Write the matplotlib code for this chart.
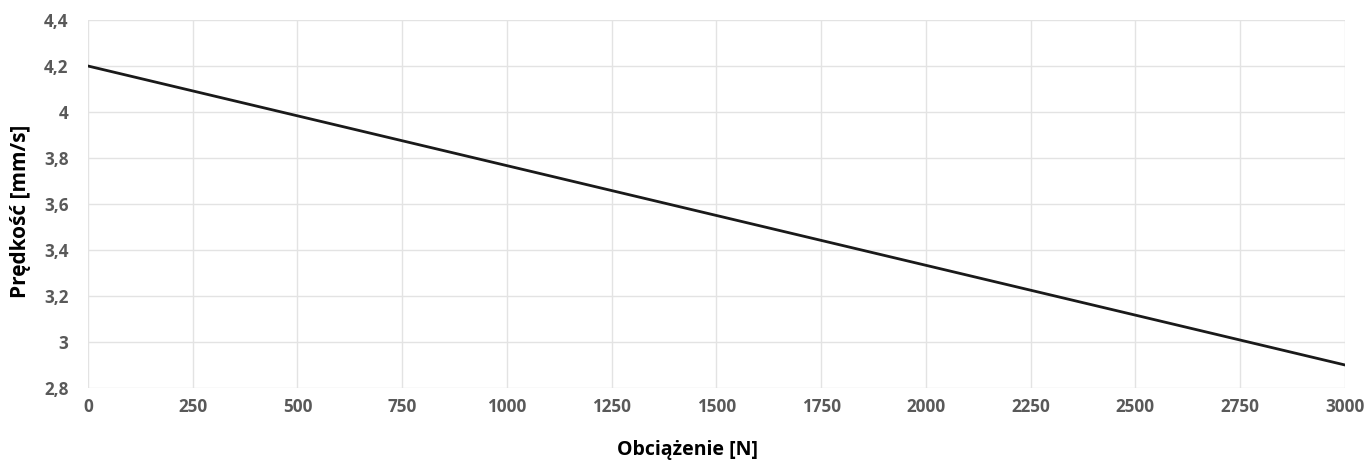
import numpy as np
import matplotlib.pyplot as plt
from matplotlib.ticker import FuncFormatter, MultipleLocator

plt.rcParams['font.family'] = ['Open Sans', 'DejaVu Sans']

# dane
obciazenie = [0, 3000]
predkosc = [4.2, 2.9]

fig = plt.figure(figsize=(13.66, 4.61), dpi=100)
ax = fig.add_axes([0.0644, 0.1584, 0.9202, 0.7982])

ax.plot(obciazenie, predkosc, color='#1a1a1a', linewidth=2.0, zorder=3)

ax.set_xlim(0, 3000)
ax.set_ylim(2.8, 4.4)
ax.xaxis.set_major_locator(MultipleLocator(250))
ax.yaxis.set_major_locator(MultipleLocator(0.2))

def fmt(v, pos):
    s = ('%.1f' % v).rstrip('0').rstrip('.')
    return s.replace('.', ',')

ax.yaxis.set_major_formatter(FuncFormatter(fmt))
ax.xaxis.set_major_formatter(FuncFormatter(lambda v, p: '%d' % v))

ax.grid(True, color='#e3e3e3', linewidth=1.0)
ax.set_axisbelow(True)
for s in ax.spines.values():
    s.set_visible(False)

ax.tick_params(axis='both', length=0, labelsize=12.3, labelcolor='#595959')
ax.tick_params(axis='x', pad=7)
ax.tick_params(axis='y', pad=14)
for lab in ax.get_xticklabels() + ax.get_yticklabels():
    lab.set_fontweight('bold')

ax.set_xlabel('Obciążenie [N]', fontsize=14, fontweight='bold', color='black')
ax.set_ylabel('Prędkość [mm/s]', fontsize=15, fontweight='bold', color='black')
ax.xaxis.set_label_coords(0.477, -0.142)
ax.yaxis.set_label_coords(-0.045, 0.48)

fig.savefig('out.png', dpi=100)
